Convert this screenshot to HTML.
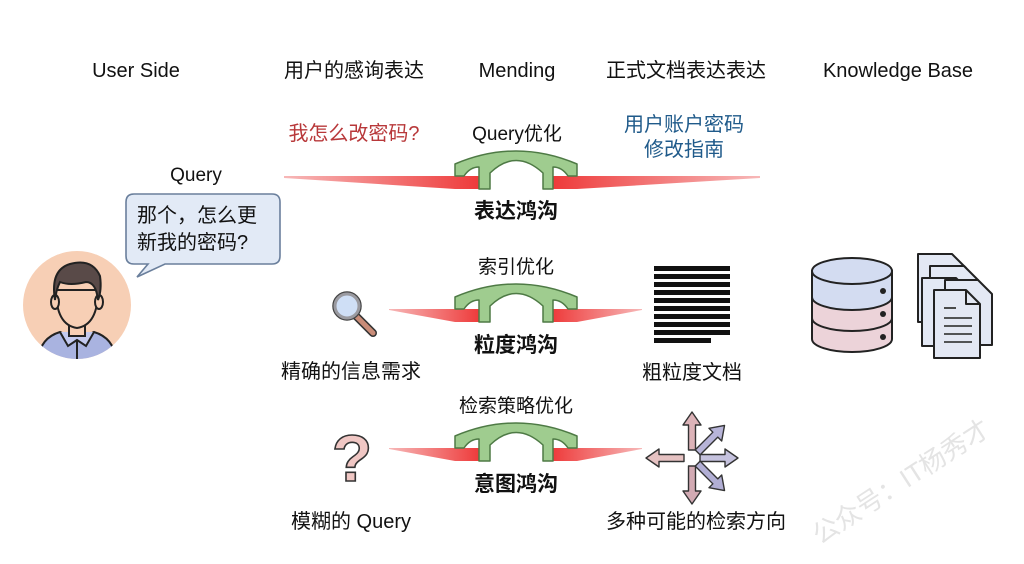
<!DOCTYPE html>
<html><head><meta charset="utf-8"><style>
html,body{margin:0;padding:0;background:#fff;}
svg text{font-family:"Liberation Sans","Noto Sans CJK SC",sans-serif;}
</style></head><body>
<svg width="1024" height="559" viewBox="0 0 1024 559" xmlns="http://www.w3.org/2000/svg">
<defs>
<linearGradient id="gl" x1="0" x2="1" y1="0" y2="0">
<stop offset="0" stop-color="#f7b8b8"/><stop offset="1" stop-color="#ee3a3a"/></linearGradient>
<linearGradient id="gr" x1="1" x2="0" y1="0" y2="0">
<stop offset="0" stop-color="#f7b8b8"/><stop offset="1" stop-color="#ee3a3a"/></linearGradient>
<g id="bridge">
<path d="M455,0 L455,-12 Q516,-38 577,-12 L577,0 L568,0 Q562,-9 553,-9 L553,13 L543,13 L543,-3 Q516,-28 490,-3 L490,13 L479,13 L479,-9 Q470,-9 464,0 Z" fill="#9fcc8f" stroke="#4e7a45" stroke-width="1.5" stroke-linejoin="round"/>
</g>
<polygon id="arr" points="8,-3.5 33,-3.5 33,-9 46,0 33,9 33,3.5 8,3.5" stroke="#333" stroke-width="1.4" stroke-linejoin="round"/>
</defs>
<g font-size="20" fill="#111">
<text x="136" y="77" text-anchor="middle">User Side</text>
<text x="354" y="77" text-anchor="middle">用户的感询表达</text>
<text x="517" y="77" text-anchor="middle">Mending</text>
<text x="686" y="77" text-anchor="middle">正式文档表达表达</text>
<text x="898" y="77" text-anchor="middle">Knowledge Base</text>
</g>
<!-- Row 1 -->
<g transform="translate(0,176)">
<polygon points="284,0 480,0 480,13 455,13 284,2" fill="url(#gl)"/>
<polygon points="760,0 552,0 552,13 577,13 760,2" fill="url(#gr)"/>
<use href="#bridge"/>
</g>
<text x="354" y="140" text-anchor="middle" font-size="20" fill="#b8383a">我怎么改密码?</text>
<text x="517" y="140" text-anchor="middle" font-size="19" fill="#111">Query优化</text>
<text x="684" y="131" text-anchor="middle" font-size="20" fill="#1f5a8a">用户账户密码</text>
<text x="684" y="156" text-anchor="middle" font-size="20" fill="#1f5a8a">修改指南</text>
<text x="516" y="218" text-anchor="middle" font-size="21" font-weight="bold" fill="#111">表达鸿沟</text>
<!-- Row 2 -->
<g transform="translate(0,309)">
<polygon points="389,0 480,0 480,13 455,13 389,1" fill="url(#gl)"/>
<polygon points="642,0 552,0 552,13 577,13 642,1" fill="url(#gr)"/>
<use href="#bridge"/>
</g>
<text x="516" y="273" text-anchor="middle" font-size="19" fill="#111">索引优化</text>
<text x="516" y="352" text-anchor="middle" font-size="21" font-weight="bold" fill="#111">粒度鸿沟</text>
<!-- Row 3 -->
<g transform="translate(0,448)">
<polygon points="389,0 480,0 480,13 455,13 389,1" fill="url(#gl)"/>
<polygon points="642,0 552,0 552,13 577,13 642,1" fill="url(#gr)"/>
<use href="#bridge"/>
</g>
<text x="516" y="412" text-anchor="middle" font-size="19" fill="#111">检索策略优化</text>
<text x="516" y="491" text-anchor="middle" font-size="21" font-weight="bold" fill="#111">意图鸿沟</text>
<!-- Query bubble -->
<text x="196" y="181" text-anchor="middle" font-size="19" fill="#111">Query</text>
<path d="M134,194 H272 Q280,194 280,202 V256 Q280,264 272,264 H165 L137,277 L148,264 H134 Q126,264 126,256 V202 Q126,194 134,194 Z" fill="#e2eaf6" stroke="#6a7f9c" stroke-width="1.6"/>
<text x="137" y="222" font-size="20" fill="#111">那个，怎么更</text>
<text x="137" y="249" font-size="20" fill="#111">新我的密码?</text>
<!-- avatar -->
<circle cx="77" cy="305" r="54" fill="#f7cfb5"/>
<clipPath id="cc"><circle cx="77" cy="305" r="54"/></clipPath>
<g clip-path="url(#cc)" stroke="#222" stroke-width="2">
<path d="M38,360 Q40,338 60,332 L77,340 L94,332 Q114,338 116,360 Z" fill="#a9b3e0"/>
<path d="M60,332 L68,346 L77,340 L86,346 L94,332" fill="#c3caef"/>
<line x1="77" y1="340" x2="77" y2="360"/>
<rect x="69" y="318" width="16" height="18" fill="#f7cfb5"/>
<path d="M56,290 Q56,325 77,328 Q98,325 98,290 Z" fill="#f7cfb5"/>
<ellipse cx="55" cy="302" rx="4" ry="7" fill="#f7cfb5"/>
<ellipse cx="99" cy="302" rx="4" ry="7" fill="#f7cfb5"/>
<path d="M55,300 Q50,270 70,264 Q92,258 100,276 Q102,290 98,300 Q96,282 86,282 Q70,286 60,282 Q56,290 55,300 Z" fill="#594a48"/>
</g>
<!-- magnifier -->
<line x1="356" y1="316" x2="373" y2="333" stroke="#333" stroke-width="8" stroke-linecap="round"/>
<line x1="356" y1="316" x2="373" y2="333" stroke="#c98c78" stroke-width="5" stroke-linecap="round"/>
<circle cx="347" cy="306" r="14" fill="#cfdff6" stroke="#444" stroke-width="1.5"/>
<circle cx="347" cy="306" r="12" fill="none" stroke="#9a9aa0" stroke-width="3"/>
<text x="351" y="378" text-anchor="middle" font-size="20" fill="#111">精确的信息需求</text>
<!-- question -->
<text x="352" y="481" text-anchor="middle" font-size="66" font-weight="bold" fill="#f0c7c4" stroke="#333" stroke-width="1.6">?</text>
<text x="351" y="528" text-anchor="middle" font-size="20" fill="#111">模糊的 Query</text>
<!-- coarse doc -->
<g fill="#111">
<rect x="654" y="266" width="76" height="5"/><rect x="654" y="274" width="76" height="5"/>
<rect x="654" y="282" width="76" height="5"/><rect x="654" y="290" width="76" height="5"/>
<rect x="654" y="298" width="76" height="5"/><rect x="654" y="306" width="76" height="5"/>
<rect x="654" y="314" width="76" height="5"/><rect x="654" y="322" width="76" height="5"/>
<rect x="654" y="330" width="76" height="5"/><rect x="654" y="338" width="57" height="5"/>
</g>
<text x="692" y="379" text-anchor="middle" font-size="20" fill="#111">粗粒度文档</text>
<!-- arrows -->
<g transform="translate(692,458)">
<use href="#arr" transform="rotate(-90)" fill="#dcb3b8"/>
<use href="#arr" transform="rotate(180)" fill="#e6c2c2"/>
<use href="#arr" transform="rotate(90)" fill="#d2aab3"/>
<use href="#arr" transform="rotate(0)" fill="#c5c2de"/>
<use href="#arr" transform="rotate(-45)" fill="#b7b4d8"/>
<use href="#arr" transform="rotate(45)" fill="#b1aed4"/>
</g>
<text x="696" y="528" text-anchor="middle" font-size="20" fill="#111">多种可能的检索方向</text>
<!-- database -->
<g stroke="#222" stroke-width="2">
<path d="M812,271 V339 A40,13 0 0 0 892,339 V271 Z" fill="#ecd3d9"/>
<path d="M812,271 V297 A40,13 0 0 0 892,297 V271 Z" fill="#d3dcf1"/>
<path d="M812,318 A40,13 0 0 0 892,318" fill="none"/>
<ellipse cx="852" cy="271" rx="40" ry="13" fill="#d3dcf1"/>
</g>
<g fill="#222"><circle cx="883" cy="291" r="3"/><circle cx="883" cy="314" r="3"/><circle cx="883" cy="337" r="3"/></g>
<!-- docs stack -->
<g stroke="#222" stroke-width="2" fill="#e3e8f4" stroke-linejoin="round">
<path d="M918,254 H952 L966,268 V322 H918 Z"/>
<path d="M930,266 H964 L978,280 V334 H930 Z"/>
<path d="M922,278 H956 L970,292 V346 H922 Z"/>
<path d="M945,280 H978 L992,294 V345 H945 Z"/>
<path d="M934,290 H966 L980,304 V358 H934 Z"/>
<path d="M966,290 V304 H980" fill="none"/>
</g>
<g stroke="#222" stroke-width="1.6">
<line x1="944" y1="308" x2="956" y2="308"/>
<line x1="944" y1="318" x2="972" y2="318"/><line x1="944" y1="326" x2="972" y2="326"/>
<line x1="944" y1="334" x2="972" y2="334"/><line x1="944" y1="342" x2="972" y2="342"/>
</g>
<!-- watermark -->
<text x="820" y="545" font-size="26" fill="#e4e4e4" transform="rotate(-33 820 545)">公众号：IT杨秀才</text>
</svg>
</body></html>
